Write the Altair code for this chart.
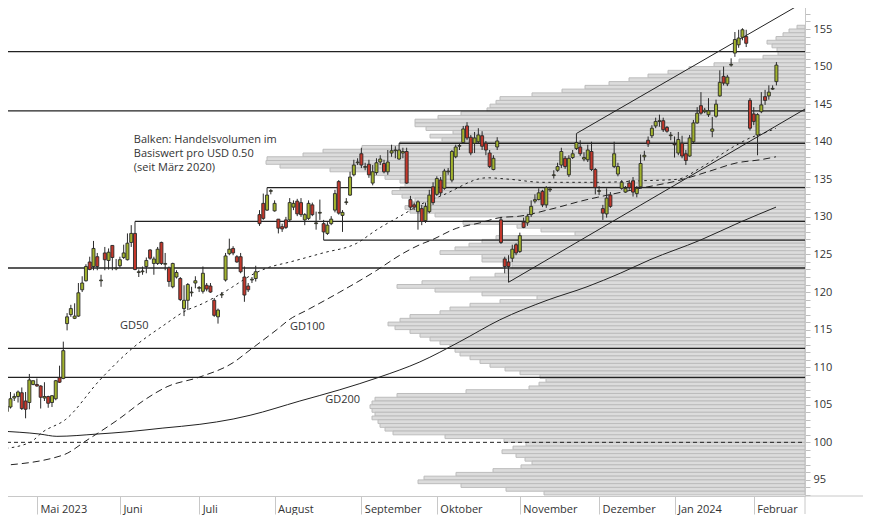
import altair as alt
import pandas as pd

# ---------------- data (trading-day index 1 = 18 Apr 2023) ----------------
opens = [106.8, 104.1, 104.7, 105.9, 106.1, 106.6, 105.5, 105.3, 107.7, 107.7,
         107.5, 105.9, 106.1, 105.3, 105.8, 108.6, 108.5, 115.8, 117.0, 116.5,
         116.8, 120.3, 121.5, 124.0, 123.4, 124.7, 121.5, 125.2, 124.2, 126.2,
         123.1, 123.5, 124.6, 124.3, 126.6, 127.8, 122.6, 122.7, 123.4, 125.6,
         123.8, 123.8, 126.6, 123.7, 123.2, 120.7, 122.0, 121.8, 117.8, 118.9,
         119.9, 121.2, 120.5, 120.1, 120.9, 120.8, 118.9, 116.7, 119.6, 121.6,
         125.1, 125.8, 124.7, 124.7, 122.0, 120.8, 121.6, 121.8, 130.3, 131.8,
         130.9, 133.4, 130.8, 129.7, 128.7, 129.6, 129.6, 131.3, 132.1, 131.9,
         129.6, 129.8, 131.6, 129.1, 130.5, 129.1, 127.8, 129.1, 130.9, 134.7,
         130.2, 131.9, 132.9, 135.6, 137.2, 138.4, 136.6, 137.0, 134.5, 135.9,
         137.3, 137.1, 136.0, 138.5, 138.8, 137.7, 138.5, 138.7, 132.3, 131.6,
         130.7, 131.1, 129.5, 130.7, 134.0, 133.0, 134.9, 133.8, 136.0, 134.9,
         138.0, 139.4, 139.9, 142.1, 140.6, 139.8, 140.0, 140.8, 139.8, 138.5,
         136.3, 139.3, 129.6, 124.4, 124.0, 124.5, 126.3, 125.4, 129.3, 129.2,
         130.3, 132.1, 132.3, 133.4, 131.6, 133.6, 135.5, 136.2, 136.9, 137.8,
         135.6, 137.9, 139.1, 139.3, 137.7, 137.6, 138.7, 136.3, 133.4, 131.1,
         130.4, 132.9, 136.7, 135.7, 133.8, 133.3, 134.5, 134.8, 133.1, 134.0,
         138.0, 140.2, 140.8, 142.1, 142.7, 142.8, 141.9, 140.8, 139.7, 138.5,
         139.8, 138.4, 138.1, 140.0, 142.5, 144.8, 144.0, 143.6, 141.4, 143.4,
         146.1, 148.7, 147.7, 150.2, 151.8, 152.9, 153.9, 154.0, 145.5, 143.7,
         140.9, 144.0, 146.0, 146.1, 147.0, 148.0]
highs = [107.0, 105.1, 106.7, 106.5, 106.9, 107.3, 106.7, 109.1, 108.2, 108.5,
         107.6, 108.0, 106.2, 106.3, 108.3, 110.2, 113.4, 117.2, 118.3, 118.5,
         121.2, 122.1, 123.7, 124.7, 126.8, 125.2, 122.3, 126.0, 125.8, 126.2,
         124.4, 124.7, 126.3, 127.8, 128.9, 129.4, 123.0, 123.4, 124.6, 125.7,
         124.7, 126.0, 126.7, 125.2, 123.4, 123.9, 122.9, 122.0, 120.9, 121.2,
         120.7, 122.1, 120.8, 123.4, 121.2, 121.2, 119.2, 117.8, 120.0, 125.2,
         127.1, 126.1, 124.9, 125.2, 123.4, 121.2, 122.0, 123.5, 130.9, 133.1,
         133.9, 133.7, 132.2, 129.7, 129.1, 130.0, 132.5, 132.2, 132.4, 132.5,
         130.5, 132.2, 131.9, 130.7, 132.3, 129.6, 129.3, 130.1, 133.6, 134.9,
         130.9, 132.5, 136.0, 137.6, 137.8, 139.2, 137.2, 137.6, 136.9, 137.8,
         138.2, 137.6, 138.9, 139.6, 139.4, 139.8, 139.2, 139.2, 132.8, 131.9,
         132.2, 131.6, 131.9, 133.6, 134.6, 135.4, 135.3, 136.4, 136.5, 138.9,
         139.6, 139.8, 142.1, 142.6, 140.9, 141.3, 141.8, 141.4, 140.1, 138.9,
         138.2, 140.6, 130.0, 124.7, 124.9, 126.3, 126.5, 127.9, 129.9, 130.4,
         132.2, 133.0, 133.8, 133.6, 134.1, 134.0, 136.2, 137.2, 139.2, 138.1,
         138.2, 138.9, 141.1, 140.2, 138.6, 139.6, 140.0, 136.5, 134.1, 131.6,
         133.8, 133.3, 140.0, 137.2, 134.9, 134.1, 134.9, 135.3, 134.1, 138.3,
         138.8, 140.7, 142.2, 143.2, 143.6, 143.2, 142.1, 141.3, 140.7, 141.3,
         140.8, 138.9, 140.9, 142.9, 144.6, 146.6, 144.5, 145.8, 143.3, 145.6,
         149.5, 150.0, 148.9, 151.1, 154.6, 154.9, 155.1, 154.9, 145.8, 144.6,
         143.8, 146.6, 146.9, 147.5, 147.5, 150.6]
lows = [104.8, 103.6, 104.5, 105.5, 105.3, 104.3, 103.2, 104.4, 107.6, 107.4,
        104.5, 105.5, 104.6, 104.7, 105.6, 107.9, 108.4, 114.9, 116.7, 116.4,
        116.7, 120.0, 121.4, 122.9, 122.9, 122.9, 120.7, 122.9, 123.0, 122.9,
        122.9, 123.2, 124.4, 124.2, 126.0, 122.9, 122.0, 122.3, 122.5, 124.3,
        122.3, 123.6, 123.6, 122.9, 120.7, 120.5, 121.8, 118.8, 116.8, 117.6,
        119.4, 120.5, 120.0, 119.8, 120.1, 119.9, 116.7, 115.8, 119.2, 121.4,
        124.9, 124.9, 123.9, 122.5, 118.7, 120.0, 121.2, 121.4, 128.8, 129.6,
        130.8, 133.0, 130.7, 127.8, 128.0, 128.4, 129.3, 130.9, 130.1, 130.0,
        128.9, 129.6, 130.1, 128.3, 129.6, 126.9, 127.6, 128.9, 130.6, 130.3,
        128.0, 131.6, 132.8, 135.4, 136.9, 136.5, 136.2, 135.2, 134.2, 135.6,
        136.9, 135.8, 135.6, 138.0, 137.8, 137.6, 137.8, 134.4, 130.9, 130.9,
        128.3, 128.9, 129.2, 130.5, 131.6, 132.8, 132.8, 133.6, 135.6, 134.6,
        137.8, 138.9, 139.7, 140.2, 138.2, 138.5, 139.8, 138.9, 138.2, 136.5,
        136.2, 138.9, 126.4, 122.5, 121.3, 124.0, 124.9, 125.2, 128.5, 128.8,
        130.0, 131.8, 132.2, 131.3, 131.2, 133.3, 135.1, 136.0, 136.5, 136.4,
        135.3, 137.7, 138.9, 138.1, 137.4, 137.3, 136.1, 133.0, 132.9, 129.6,
        129.9, 131.2, 136.5, 135.4, 133.6, 133.2, 133.6, 132.7, 132.6, 133.8,
        137.5, 139.3, 140.5, 141.8, 142.0, 141.3, 141.2, 140.2, 137.9, 138.2,
        137.8, 136.9, 138.0, 139.8, 142.4, 143.6, 143.8, 143.3, 140.6, 143.2,
        146.0, 147.5, 147.4, 150.0, 151.3, 152.5, 153.5, 152.6, 141.5, 142.2,
        138.2, 143.8, 144.9, 145.6, 146.9, 147.5]
closes = [105.1, 104.8, 105.8, 106.1, 106.7, 104.5, 104.4, 108.3, 108.2, 107.5,
          106.0, 106.1, 105.2, 106.2, 108.2, 108.0, 112.2, 116.7, 117.8, 116.8,
          119.9, 121.2, 123.4, 123.0, 125.8, 123.4, 121.6, 124.3, 125.3, 124.6,
          123.2, 124.3, 125.2, 126.5, 127.8, 123.0, 122.7, 122.8, 124.2, 124.5,
          124.4, 125.7, 123.8, 123.8, 121.4, 123.8, 122.6, 119.0, 118.9, 121.0,
          120.0, 121.5, 120.6, 122.5, 120.4, 120.0, 116.9, 117.6, 119.7, 124.8,
          125.7, 125.2, 124.0, 122.7, 119.6, 120.3, 121.7, 122.7, 129.1, 129.8,
          132.9, 133.5, 131.8, 128.5, 128.4, 128.6, 131.9, 131.8, 130.4, 130.3,
          130.3, 131.8, 130.3, 129.2, 130.6, 128.0, 128.9, 129.7, 133.1, 130.5,
          130.6, 132.0, 135.3, 136.9, 137.3, 136.9, 136.7, 135.6, 136.0, 137.2,
          137.7, 136.0, 137.3, 138.8, 138.9, 138.9, 138.7, 134.5, 131.3, 131.3,
          132.0, 129.4, 131.4, 132.9, 131.9, 135.1, 133.2, 136.1, 136.1, 138.7,
          139.3, 139.5, 141.7, 140.5, 138.5, 140.5, 140.9, 139.4, 138.9, 136.7,
          137.8, 140.1, 126.6, 123.4, 123.4, 125.7, 125.2, 127.5, 128.6, 130.1,
          131.4, 132.3, 133.2, 131.6, 133.9, 133.7, 135.6, 136.7, 138.7, 136.7,
          137.8, 138.4, 139.9, 138.4, 137.9, 138.9, 136.3, 133.9, 133.5, 130.5,
          132.5, 131.4, 138.4, 136.7, 134.6, 133.8, 133.9, 133.3, 133.8, 137.1,
          138.2, 139.7, 141.8, 142.7, 142.8, 141.6, 141.4, 140.9, 139.6, 140.3,
          138.1, 137.5, 140.5, 142.5, 143.8, 143.8, 144.2, 144.1, 141.7, 145.0,
          147.9, 147.8, 148.6, 150.3, 153.6, 153.8, 154.9, 153.1, 141.8, 142.7,
          143.6, 144.9, 145.5, 146.6, 147.1, 150.2]

month_day = [10, 32, 53, 73, 96, 116, 138, 159, 179, 200]
month_name = ["Mai 2023", "Juni", "Juli", "August", "September", "Oktober",
              "November", "Dezember", "Jan 2024", "Februar"]

# volume profile: lower edge of each USD 0.50 bucket and relative volume
vp_low = [155.0, 154.5, 154.0, 153.5, 153.0, 152.5, 152.0, 151.5, 151.0, 150.5,
          150.0, 149.5, 149.0, 148.5, 148.0, 147.5, 147.0, 146.5, 146.0, 145.5,
          145.0, 144.5, 144.0, 143.5, 143.0, 142.5, 142.0, 141.5, 141.0, 140.5,
          140.0, 139.5, 139.0, 138.5, 138.0, 137.5, 137.0, 136.5, 136.0, 135.5,
          135.0, 134.5, 134.0, 133.5, 133.0, 132.5, 132.0, 131.5, 131.0, 130.5,
          130.0, 129.5, 129.0, 128.5, 128.0, 127.5, 127.0, 126.5, 126.0, 125.5,
          125.0, 124.5, 124.0, 123.5, 123.0, 122.5, 122.0, 121.5, 121.0, 120.5,
          120.0, 119.5, 119.0, 118.5, 118.0, 117.5, 117.0, 116.5, 116.0, 115.5,
          115.0, 114.5, 114.0, 113.5, 113.0, 112.5, 112.0, 111.5, 111.0, 110.5,
          110.0, 109.5, 109.0, 108.5, 108.0, 107.5, 107.0, 106.5, 106.0, 105.5,
          105.0, 104.5, 104.0, 103.5, 103.0, 102.5, 102.0, 101.5, 101.0, 100.5,
          100.0, 99.5, 99.0, 98.5, 98.0, 97.5, 97.0, 96.5, 96.0, 95.5,
          95.0, 94.5, 94.0, 93.5, 93.0]
vp_vol = [8, 16, 22, 29, 38, 33, 28, 27, 42, 66,
          91, 116, 137, 157, 176, 196, 220, 243, 273, 305,
          309, 315, 318, 344, 367, 390, 390, 379, 352, 375,
          363, 405, 443, 482, 502, 538, 539, 525, 475, 435,
          420, 405, 400, 405, 413, 403, 390, 393, 400, 395,
          370, 305, 342, 288, 264, 230, 309, 323, 336, 350,
          365, 323, 323, 293, 293, 298, 310, 335, 383, 408,
          370, 323, 268, 305, 335, 355, 365, 395, 405, 417,
          410, 395, 385, 375, 365, 355, 350, 345, 335, 325,
          315, 300, 285, 265, 259, 266, 276, 339, 408, 430,
          433, 435, 433, 430, 433, 427, 425, 420, 412, 360,
          301, 279, 292, 303, 289, 280, 273, 284, 312, 349,
          381, 387, 344, 299, 261]

gd50_day = [0.2, 8.2, 11.6, 17.5, 26.7, 35.5, 43.4, 49.8, 53.2, 59.3, 67.8, 71.0,
            77.1, 85.8, 94.8, 100.1, 107.0, 111.5, 117.6, 129.3, 135.4, 144.1,
            159.3, 169.9, 179.7, 185.8, 194.5, 199.0, 203.5, 205.9]
gd50_val = [99.1, 100.0, 101.4, 103.0, 108.3, 112.6, 115.5, 117.6, 118.3, 119.9, 122.5, 123.2,
            124.0, 125.2, 126.5, 128.3, 130.3, 131.6, 132.9, 135.2, 135.0, 134.6,
            134.6, 134.8, 135.0, 136.5, 139.3, 140.5, 141.3, 141.8]
gd100_day = [0.2, 16.9, 23.3, 32.0, 38.1, 44.5, 53.2, 62.0, 66.5, 73.6, 77.1, 81.6,
             90.3, 100.1, 106.2, 111.5, 114.5, 121.3, 127.4, 132.7, 138.0, 146.0,
             155.8, 158.5, 169.9, 180.5, 188.4, 195.6, 201.7, 205.9]
gd100_val = [96.9, 98.3, 100.3, 103.2, 105.5, 107.4, 108.7, 110.6, 112.3, 115.0, 116.4, 117.6,
             120.0, 122.9, 124.9, 126.3, 126.9, 128.5, 129.2, 129.9, 130.1, 131.0,
             132.3, 132.6, 133.8, 134.9, 136.1, 137.2, 137.6, 138.0]
gd200_day = [0.2, 10.8, 15.3, 25.9, 33.9, 43.4, 53.2, 62.0, 66.5, 79.7, 90.3, 100.9,
             111.5, 122.1, 132.7, 145.2, 155.8, 164.6, 172.5, 185.8, 196.4, 205.9]
gd200_val = [101.5, 101.1, 100.8, 101.1, 101.4, 101.9, 102.4, 103.1, 103.6, 105.5, 107.0, 108.7,
             110.7, 113.4, 116.3, 118.9, 120.7, 122.5, 124.3, 126.9, 129.3, 131.3]

level_val = [152.0, 144.1, 139.8, 133.9, 129.4, 126.9, 123.2, 112.5, 108.65]
level_from = [0, 0, 106, 71, 36, 86, 0, 0, 0]
ref_level = [100.0]

chan_up_day = [153, 213.58]
chan_up_val = [141.1, 158.66]
chan_lo_day = [135, 213.58]
chan_lo_val = [121.3, 144.35]

note_text = ["Balken: Handelsvolumen im\nBasiswert pro USD 0.50\n(seit März 2020)"]
note_day = [35.7]
note_val = [141.0]
ma_text = ["GD50", "GD100", "GD200"]
ma_text_day = [32.0, 77.1, 86.4]
ma_text_val = [115.5, 115.35, 105.6]

# ---------------- chart ----------------
W, H = 805, 496
X_MIN, X_MAX = 0.22, 213.58
FONT = "Open Sans"
INK = "#222222"
GREEN, RED = "#a2b32d", "#c4372b"

xs = alt.Scale(domain=[X_MIN, X_MAX], nice=False, zero=False, padding=0)
ys = alt.Scale(domain=[92.86, 158.86], nice=False, zero=False, padding=0)

expr = "''"
for d, n in zip(reversed(month_day), reversed(month_name)):
    expr = f"datum.value == {d} ? '{n}' : ({expr})"

xaxis = alt.Axis(values=month_day, labelExpr=expr, tickSize=18, labelAlign="left",
                 labelOffset=3, labelPadding=-11, labelBaseline="top", grid=False,
                 title=None, domainColor="#c8c8c8", tickColor="#c8c8c8",
                 labelFont=FONT, labelFontSize=11, labelColor="#333333",
                 labelFlush=False, labelOverlap=False)
yaxis = alt.Axis(orient="right", values=list(range(93, 159)),
                 labelExpr="datum.value % 5 === 0 ? datum.value : ''",
                 tickSize=5, grid=False, title=None, domainColor="#c8c8c8",
                 tickColor="#bdbdbd", labelFont=FONT, labelFontSize=11,
                 labelColor="#333333", labelPadding=3, labelOverlap=False,
                 labelFlush=False, labelBaseline="middle")

cdf = pd.DataFrame({"o": opens, "h": highs, "l": lows, "c": closes})
cdf["i"] = range(1, len(cdf) + 1)
cdf["dir"] = ["up" if c >= o else "down" for o, c in zip(cdf.o, cdf.c)]

vdf = pd.DataFrame({"lo": vp_low, "vol": vp_vol})
vdf["hi"] = vdf["lo"] + 0.5

X = lambda f: alt.X(f, scale=xs, axis=xaxis)
Y = lambda f: alt.Y(f, scale=ys, axis=yaxis)

vol_layer = alt.Chart(vdf).mark_rect(fill="#dcdcdc", stroke="#bcbcbc", strokeWidth=1, clip=True).encode(
    x=alt.X("vol:Q", scale=alt.Scale(domain=[0, 805], reverse=True, nice=False, zero=False, padding=0),
            axis=None),
    x2=alt.datum(0),
    y=Y("lo:Q"), y2="hi:Q")

def ma(days, vals, dash):
    df = pd.DataFrame({"i": days, "v": vals})
    m = alt.Chart(df).mark_line(color=INK, strokeWidth=1, clip=True, interpolate="monotone",
                                **({"strokeDash": dash} if dash else {}))
    return m.encode(x=X("i:Q"), y=Y("v:Q"))

lv = pd.DataFrame({"v": level_val, "a": level_from})
lv["b"] = X_MAX
levels = alt.Chart(lv).mark_rule(color=INK, strokeWidth=1.3, clip=True).encode(
    x=X("a:Q"), x2="b:Q", y=Y("v:Q"))
ref = alt.Chart(pd.DataFrame({"v": ref_level, "a": [X_MIN], "b": [X_MAX]})).mark_rule(
    color=INK, strokeWidth=1, strokeDash=[4, 3], clip=True).encode(x=X("a:Q"), x2="b:Q", y=Y("v:Q"))

chdf = pd.DataFrame({"a": [chan_up_day[0], chan_lo_day[0]], "b": [chan_up_day[1], chan_lo_day[1]],
                     "va": [chan_up_val[0], chan_lo_val[0]], "vb": [chan_up_val[1], chan_lo_val[1]]})
chan = alt.Chart(chdf).mark_rule(color=INK, strokeWidth=1, clip=True).encode(
    x=X("a:Q"), x2="b:Q", y=Y("va:Q"), y2="vb:Q")

wicks = alt.Chart(cdf).mark_rule(color="#2a2a2a", strokeWidth=1, clip=True).encode(
    x=X("i:Q"), y=Y("l:Q"), y2="h:Q")
bodies = alt.Chart(cdf).mark_bar(size=3, stroke="#2a2a2a", strokeWidth=0.9, clip=True,
                                 orient="vertical").encode(
    x=X("i:Q"), y=Y("o:Q"), y2="c:Q",
    fill=alt.Fill("dir:N", scale=alt.Scale(domain=["up", "down"], range=[GREEN, RED]), legend=None))

note = alt.Chart(pd.DataFrame({"t": note_text, "i": note_day, "v": note_val})).mark_text(
    align="left", baseline="top", font=FONT, fontSize=11, color="#333333",
    lineBreak="\n", lineHeight=14).encode(x=X("i:Q"), y=Y("v:Q"), text="t:N")
malab = alt.Chart(pd.DataFrame({"t": ma_text, "i": ma_text_day, "v": ma_text_val})).mark_text(
    align="left", baseline="middle", font=FONT, fontSize=11, color="#333333").encode(
    x=X("i:Q"), y=Y("v:Q"), text="t:N")

one = pd.DataFrame({"k": [0]})
ext_y = alt.Chart(one).mark_rule(color="#c8c8c8", strokeWidth=1).encode(
    x=alt.value(W), y=alt.value(H), y2=alt.value(H + 18))
ext_x = alt.Chart(one).mark_rule(color="#c8c8c8", strokeWidth=1).encode(
    x=alt.value(W), x2=alt.value(W + 58), y=alt.value(H))

inner = alt.layer(ma(gd200_day, gd200_val, None), ma(gd100_day, gd100_val, [7, 4]),
                  ma(gd50_day, gd50_val, [2.5, 3.5]), ref, levels, chan, wicks, bodies,
                  note, malab, ext_y, ext_x)

chart = alt.layer(vol_layer, inner).resolve_scale(x="independent").properties(
    width=W, height=H, padding={"left": -8, "top": -8, "right": 0, "bottom": 0}
).configure_view(strokeWidth=0)

chart.save("out.html", embed_options={"renderer": "svg", "actions": False})
